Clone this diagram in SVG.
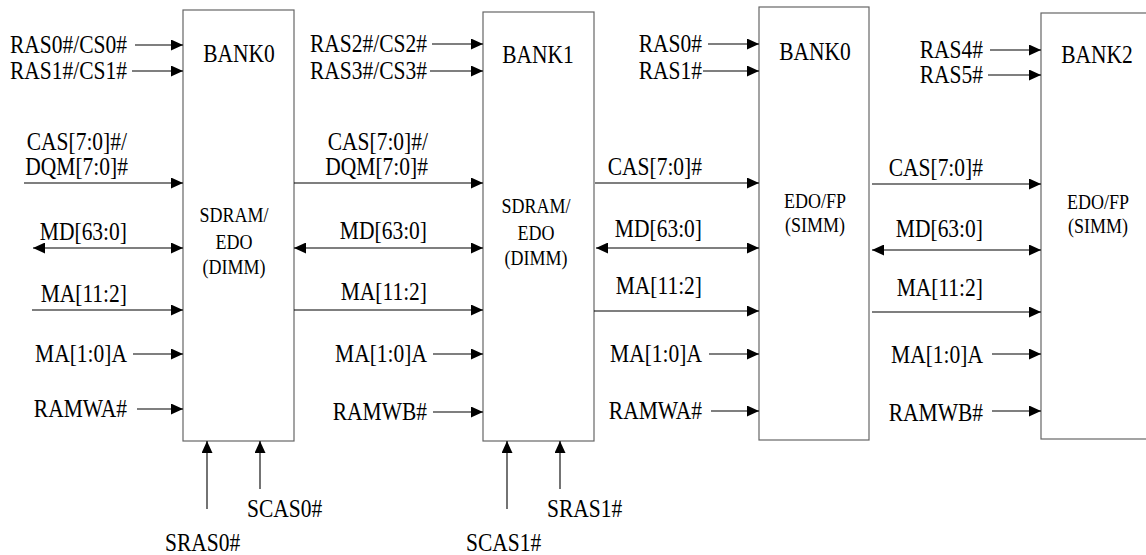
<svg xmlns="http://www.w3.org/2000/svg" width="1146" height="555" viewBox="0 0 1146 555">
<style>
text{font-family:"Liberation Serif","Times New Roman",serif;fill:#000}
.l{font-size:21.5px;text-anchor:end}
.t{font-size:21.5px;text-anchor:middle}
.i{font-size:18px;text-anchor:middle}
.b{font-size:21.5px}
rect{fill:#fff;stroke:#666;stroke-width:1.2}
line{stroke:#000;stroke-width:1.1}
.a{marker-end:url(#ah)}
.d{marker-end:url(#ah);marker-start:url(#as)}
</style>
<defs>
<marker id="ah" markerUnits="userSpaceOnUse" markerWidth="13" markerHeight="12" refX="12" refY="5.5" orient="auto"><path d="M0,0L12,5.5L0,11Z" fill="#000"/></marker>
<marker id="as" markerUnits="userSpaceOnUse" markerWidth="13" markerHeight="12" refX="0" refY="5.5" orient="auto"><path d="M12,0L0,5.5L12,11Z" fill="#000"/></marker>
</defs>
<g id="bank0-dimm">
<rect x="183" y="10" width="111" height="431"/>
<g transform="scale(1,1.15)">
<text class="t" x="239" y="53.9">BANK0</text>
<text class="i" x="234" y="193">SDRAM/</text>
<text class="i" x="234" y="216.5">EDO</text>
<text class="i" x="234" y="238.3">(DIMM)</text>
</g>
</g>
<g id="bank1-dimm">
<rect x="483" y="12" width="111" height="429"/>
<g transform="scale(1,1.15)">
<text class="t" x="538" y="54.8">BANK1</text>
<text class="i" x="536" y="185.2">SDRAM/</text>
<text class="i" x="536" y="208.7">EDO</text>
<text class="i" x="536" y="230.4">(DIMM)</text>
</g>
</g>
<g id="bank0-simm">
<rect x="759" y="7" width="110" height="433"/>
<g transform="scale(1,1.15)">
<text class="t" x="815" y="52.2">BANK0</text>
<text class="i" x="815" y="180.9">EDO/FP</text>
<text class="i" x="815" y="201.7">(SIMM)</text>
</g>
</g>
<g id="bank2-simm">
<rect x="1041" y="13" width="110" height="426"/>
<g transform="scale(1,1.15)">
<text class="t" x="1097" y="54.8">BANK2</text>
<text class="i" x="1098" y="181.7">EDO/FP</text>
<text class="i" x="1098" y="202.6">(SIMM)</text>
</g>
</g>
<g id="connectors">
<line class="a" x1="135" y1="45" x2="183" y2="45"/>
<line class="a" x1="132" y1="71" x2="183" y2="71"/>
<line class="a" x1="24" y1="183" x2="183" y2="183"/>
<line class="d" x1="33" y1="248" x2="183" y2="248"/>
<line class="a" x1="32" y1="310" x2="183" y2="310"/>
<line class="a" x1="133" y1="354" x2="183" y2="354"/>
<line class="a" x1="137" y1="409" x2="183" y2="409"/>
<line class="a" x1="207" y1="509" x2="207" y2="441"/>
<line class="a" x1="260" y1="489" x2="260" y2="441"/>

<line class="a" x1="432" y1="44" x2="483" y2="44"/>
<line class="a" x1="430" y1="71" x2="483" y2="71"/>
<line class="a" x1="294" y1="183" x2="483" y2="183"/>
<line class="d" x1="294" y1="248" x2="483" y2="248"/>
<line class="a" x1="294" y1="310" x2="483" y2="310"/>
<line class="a" x1="433" y1="354" x2="483" y2="354"/>
<line class="a" x1="433" y1="412" x2="483" y2="412"/>
<line class="a" x1="507" y1="509" x2="507" y2="441"/>
<line class="a" x1="560" y1="489" x2="560" y2="441"/>

<line class="a" x1="708" y1="44" x2="759" y2="44"/>
<line class="a" x1="703" y1="71" x2="759" y2="71"/>
<line class="a" x1="595" y1="183" x2="759" y2="183"/>
<line class="d" x1="596" y1="248" x2="759" y2="248"/>
<line class="a" x1="594" y1="311" x2="759" y2="311"/>
<line class="a" x1="709" y1="354" x2="759" y2="354"/>
<line class="a" x1="711" y1="411" x2="759" y2="411"/>

<line class="a" x1="990" y1="50" x2="1041" y2="50"/>
<line class="a" x1="988" y1="75" x2="1041" y2="75"/>
<line class="a" x1="872" y1="184" x2="1041" y2="184"/>
<line class="d" x1="872" y1="250" x2="1041" y2="250"/>
<line class="a" x1="872" y1="312" x2="1041" y2="312"/>
<line class="a" x1="992" y1="354" x2="1041" y2="354"/>
<line class="a" x1="992" y1="411" x2="1041" y2="411"/>
</g>
<g id="labels" transform="scale(1,1.15)">
<text class="l" x="127" y="46.1">RAS0#/CS0#</text>
<text class="l" x="127" y="68.7">RAS1#/CS1#</text>
<text class="l" x="127" y="130.4">CAS[7:0]#/</text>
<text class="l" x="128" y="152.2">DQM[7:0]#</text>
<text class="l" x="127" y="208.7">MD[63:0]</text>
<text class="l" x="127" y="262.6">MA[11:2]</text>
<text class="l" x="127" y="314.8">MA[1:0]A</text>
<text class="l" x="127" y="362.6">RAMWA#</text>
<text class="b" x="165" y="479.1">SRAS0#</text>
<text class="b" x="247" y="449.6">SCAS0#</text>

<text class="l" x="427" y="45.2">RAS2#/CS2#</text>
<text class="l" x="427" y="68.7">RAS3#/CS3#</text>
<text class="l" x="428" y="130.4">CAS[7:0]#/</text>
<text class="l" x="428" y="152.2">DQM[7:0]#</text>
<text class="l" x="427" y="207.8">MD[63:0]</text>
<text class="l" x="427" y="260.9">MA[11:2]</text>
<text class="l" x="427" y="314.8">MA[1:0]A</text>
<text class="l" x="427" y="365.2">RAMWB#</text>
<text class="b" x="466" y="479.1">SCAS1#</text>
<text class="b" x="547" y="449.6">SRAS1#</text>

<text class="l" x="702" y="45.2">RAS0#</text>
<text class="l" x="702" y="68.7">RAS1#</text>
<text class="l" x="702" y="152.2">CAS[7:0]#</text>
<text class="l" x="702" y="206.1">MD[63:0]</text>
<text class="l" x="702" y="255.7">MA[11:2]</text>
<text class="l" x="702" y="314.8">MA[1:0]A</text>
<text class="l" x="702" y="364.3">RAMWA#</text>

<text class="l" x="983" y="50.4">RAS4#</text>
<text class="l" x="983" y="72.2">RAS5#</text>
<text class="l" x="983" y="153">CAS[7:0]#</text>
<text class="l" x="983" y="206.1">MD[63:0]</text>
<text class="l" x="983" y="257.4">MA[11:2]</text>
<text class="l" x="983" y="315.7">MA[1:0]A</text>
<text class="l" x="983" y="366.1">RAMWB#</text>
</g>
</svg>
